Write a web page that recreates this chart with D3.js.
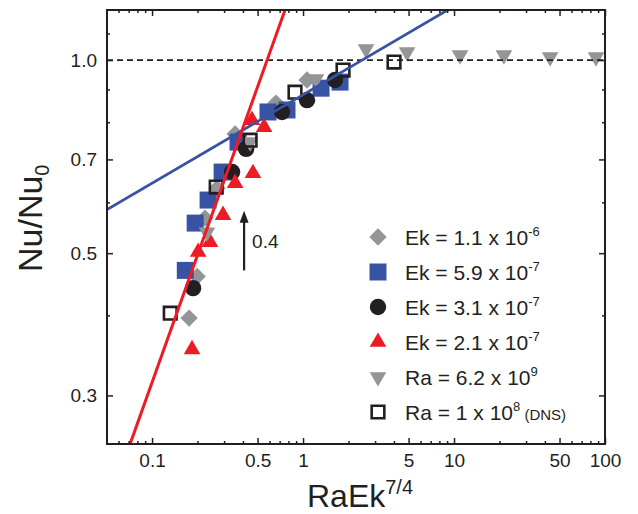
<!DOCTYPE html>
<html>
<head>
<meta charset="utf-8">
<script src="https://cdn.jsdelivr.net/npm/d3@7"></script>
<style>
  html, body { margin: 0; padding: 0; background: #fff; }
  svg { display: block; font-family: "Liberation Sans", Arial, Helvetica, sans-serif; }
</style>
</head>
<body>
<svg id="chart" width="638" height="514"></svg>
<script>
// ---------------- data ----------------
const ek11x = [0.176, 0.199, 0.224, 0.269, 0.355, 0.662, 1.063];
const ek11y = [0.396, 0.460, 0.567, 0.631, 0.767, 0.857, 0.931];

const ek59x = [0.166, 0.193, 0.235, 0.291, 0.371, 0.586, 0.783, 1.316, 1.758];
const ek59y = [0.470, 0.557, 0.605, 0.669, 0.745, 0.830, 0.836, 0.904, 0.924];

const ek31x = [0.187, 0.339, 0.420, 0.726, 1.063, 1.629];
const ek31y = [0.441, 0.669, 0.727, 0.830, 0.866, 0.931];

const ek21x = [0.184, 0.202, 0.242, 0.295, 0.355, 0.466, 0.459, 0.552];
const ek21y = [0.354, 0.502, 0.520, 0.573, 0.643, 0.666, 0.806, 0.786];

const ra62x = [0.231, 0.446, 1.219, 2.614, 4.886, 10.96, 21.4, 43.3, 87.2];
const ra62y = [0.539, 0.745, 0.934, 1.040, 1.029, 1.018, 1.018, 1.011, 1.011];

const dnsx = [0.132, 0.266, 0.446, 0.885, 1.841, 4.006];
const dnsy = [0.403, 0.634, 0.750, 0.891, 0.965, 0.993];

// fit lines (end points, log-log straight lines)
const redFitX = [0.05, 1.0];
const redFitY = [0.199, 1.435];
const blueFitX = [0.05, 20];
const blueFitY = [0.584, 1.335];
const refLineY = 1.0;

// ticks
const xMajorTicks = [0.1, 0.5, 1, 5, 10, 50, 100];
const xMajorLabels = ["0.1", "0.5", "1", "5", "10", "50", "100"];
const xMinorTicks = [0.06,0.07,0.08,0.09,0.2,0.3,0.4,0.6,0.7,0.8,0.9,2,3,4,6,7,8,9,20,30,40,60,70,80,90];
const yMajorTicks = [0.3, 0.5, 0.7, 1.0];
const yMajorLabels = ["0.3", "0.5", "0.7", "1.0"];
const yMinorTicks = [0.4, 0.6, 0.8, 0.9, 1.1];

// legend
const legendLabels = [
  {base: "Ek = 1.1 x 10", sup: "-6", extra: ""},
  {base: "Ek = 5.9 x 10", sup: "-7", extra: ""},
  {base: "Ek = 3.1 x 10", sup: "-7", extra: ""},
  {base: "Ek = 2.1 x 10", sup: "-7", extra: ""},
  {base: "Ra = 6.2 x 10", sup: "9", extra: ""},
  {base: "Ra = 1 x 10", sup: "8", extra: " (DNS)"}
];

// annotation
const arrowX = 0.407, arrowY0 = 0.470, arrowY1 = 0.582;
const arrowLabel = "0.4";

// ---------------- chart ----------------
const W = 638, H = 514;
const m = {left: 107, top: 10, right: 33, bottom: 70};
const iw = W - m.left - m.right, ih = H - m.top - m.bottom;

const svg = d3.select("#chart");
const g = svg.append("g").attr("transform", `translate(${m.left},${m.top})`);

const x = d3.scaleLog().domain([0.0503, 100]).range([0, iw]);
const y = d3.scaleLog().domain([0.252, 1.197]).range([ih, 0]);

const ink = "#231f20";
const cGray = "#939598", cBlue = "#3953a4", cBlack = "#231f20", cRed = "#ed1c24";

svg.append("defs").append("clipPath").attr("id", "clip")
  .append("rect").attr("width", iw).attr("height", ih);

// series definitions
const series = [
  {xs: ek11x, ys: ek11y, type: "diamond", fill: cGray, stroke: "none"},
  {xs: ek59x, ys: ek59y, type: "square", fill: cBlue, stroke: "none"},
  {xs: ek31x, ys: ek31y, type: "circle", fill: cBlack, stroke: "none"},
  {xs: ek21x, ys: ek21y, type: "tri", fill: cRed, stroke: "none"},
  {xs: ra62x, ys: ra62y, type: "tridown", fill: cGray, stroke: "none"},
  {xs: dnsx, ys: dnsy, type: "open", fill: "none", stroke: cBlack}
];

function symPath(type) {
  switch (type) {
    case "diamond": return d3.symbol().type(d3.symbolSquare).size(150)();
    case "square": return d3.symbol().type(d3.symbolSquare).size(289)();
    case "circle": return d3.symbol().type(d3.symbolCircle).size(210)();
    case "tri": return d3.symbol().type(d3.symbolTriangle).size(120)();
    case "tridown": return d3.symbol().type(d3.symbolTriangle).size(120)();
    case "open": return d3.symbol().type(d3.symbolSquare).size(160)();
  }
}
function symRot(type) {
  if (type === "diamond") return 45;
  if (type === "tridown") return 180;
  return 0;
}

function drawSym(sel, s, px, py) {
  sel.append("path")
    .attr("d", symPath(s.type))
    .attr("transform", `translate(${px},${py}) rotate(${symRot(s.type)})`)
    .attr("fill", s.fill)
    .attr("stroke", s.stroke)
    .attr("stroke-width", s.type === "open" ? 2.6 : 0);
}

const marks = g.append("g").attr("clip-path", "url(#clip)");
series.forEach(s => {
  s.xs.forEach((xv, i) => drawSym(marks, s, x(xv), y(s.ys[i])));
});

// lines
const lineGen = d3.line().x(d => x(d[0])).y(d => y(d[1]));
const lines = g.append("g").attr("clip-path", "url(#clip)");
lines.append("line")
  .attr("x1", 0).attr("x2", iw).attr("y1", y(refLineY)).attr("y2", y(refLineY))
  .attr("stroke", ink).attr("stroke-width", 1.8).attr("stroke-dasharray", "6,4");
lines.append("path")
  .attr("d", lineGen(blueFitX.map((v, i) => [v, blueFitY[i]])))
  .attr("fill", "none").attr("stroke", cBlue).attr("stroke-width", 2.8);
lines.append("path")
  .attr("d", lineGen(redFitX.map((v, i) => [v, redFitY[i]])))
  .attr("fill", "none").attr("stroke", cRed).attr("stroke-width", 3);

// axes
const fs = 19;
function styleAxis(sel) {
  sel.select(".domain").remove();
  sel.selectAll(".tick line").attr("stroke", ink).attr("stroke-width", 1.5);
  sel.selectAll(".tick text").attr("fill", ink).attr("font-size", fs).attr("font-family", "'Liberation Sans', Arial, sans-serif");
}
const bx = g.append("g").attr("transform", `translate(0,${ih})`)
  .call(d3.axisBottom(x).tickValues(xMajorTicks).tickSize(-6).tickPadding(10)
    .tickFormat((d, i) => xMajorLabels[i]));
styleAxis(bx);
const bxm = g.append("g").attr("transform", `translate(0,${ih})`)
  .call(d3.axisBottom(x).tickValues(xMinorTicks).tickSize(-3).tickFormat(""));
styleAxis(bxm);
const tx = g.append("g").call(d3.axisTop(x).tickValues(xMajorTicks).tickSize(-6).tickFormat(""));
styleAxis(tx);
const txm = g.append("g").call(d3.axisTop(x).tickValues(xMinorTicks).tickSize(-3).tickFormat(""));
styleAxis(txm);

const ly = g.append("g")
  .call(d3.axisLeft(y).tickValues(yMajorTicks).tickSize(-6).tickPadding(10)
    .tickFormat((d, i) => yMajorLabels[i]));
styleAxis(ly);
const lym = g.append("g").call(d3.axisLeft(y).tickValues(yMinorTicks).tickSize(-3).tickFormat(""));
styleAxis(lym);
const ry = g.append("g").attr("transform", `translate(${iw},0)`)
  .call(d3.axisRight(y).tickValues(yMajorTicks).tickSize(-6).tickFormat(""));
styleAxis(ry);
const rym = g.append("g").attr("transform", `translate(${iw},0)`)
  .call(d3.axisRight(y).tickValues(yMinorTicks).tickSize(-3).tickFormat(""));
styleAxis(rym);

// frame
g.append("rect").attr("width", iw).attr("height", ih)
  .attr("fill", "none").attr("stroke", ink).attr("stroke-width", 2);

// axis titles
const xt = svg.append("text")
  .attr("x", 307).attr("y", 507)
  .attr("font-size", 32).attr("fill", ink);
xt.append("tspan").text("RaEk");
xt.append("tspan").attr("font-size", 20).attr("dy", -13).text("7/4");

const yt = svg.append("text")
  .attr("transform", "translate(42,272) rotate(-90)")
  .attr("font-size", 34).attr("fill", ink);
yt.append("tspan").text("Nu/Nu");
yt.append("tspan").attr("font-size", 20).attr("dy", 7).text("0");

// arrow annotation
const ann = g.append("g");
const ax = x(arrowX), ay0 = y(arrowY0), ay1 = y(arrowY1);
ann.append("line").attr("x1", ax).attr("x2", ax).attr("y1", ay0).attr("y2", ay1 + 8)
  .attr("stroke", ink).attr("stroke-width", 2.2);
ann.append("path")
  .attr("d", `M${ax},${ay1} L${ax - 4.5},${ay1 + 12} L${ax + 4.5},${ay1 + 12} Z`)
  .attr("fill", ink);
ann.append("text").attr("x", ax + 8).attr("y", (ay0 + ay1) / 2 + 7)
  .attr("font-size", 19).attr("fill", ink).text(arrowLabel);

// legend
const leg = svg.append("g").attr("transform", "translate(378,237)");
series.forEach((s, i) => {
  const row = leg.append("g").attr("transform", `translate(0,${i * 35})`);
  drawSym(row, s, 0, 0);
  const t = row.append("text").attr("x", 27).attr("y", 7.5)
    .attr("font-size", 21).attr("fill", ink);
  t.append("tspan").text(legendLabels[i].base);
  t.append("tspan").attr("font-size", 13).attr("dy", -9).text(legendLabels[i].sup);
  if (legendLabels[i].extra) {
    t.append("tspan").attr("font-size", 15).attr("dy", 9).text(legendLabels[i].extra);
  }
});
</script>
</body>
</html>
